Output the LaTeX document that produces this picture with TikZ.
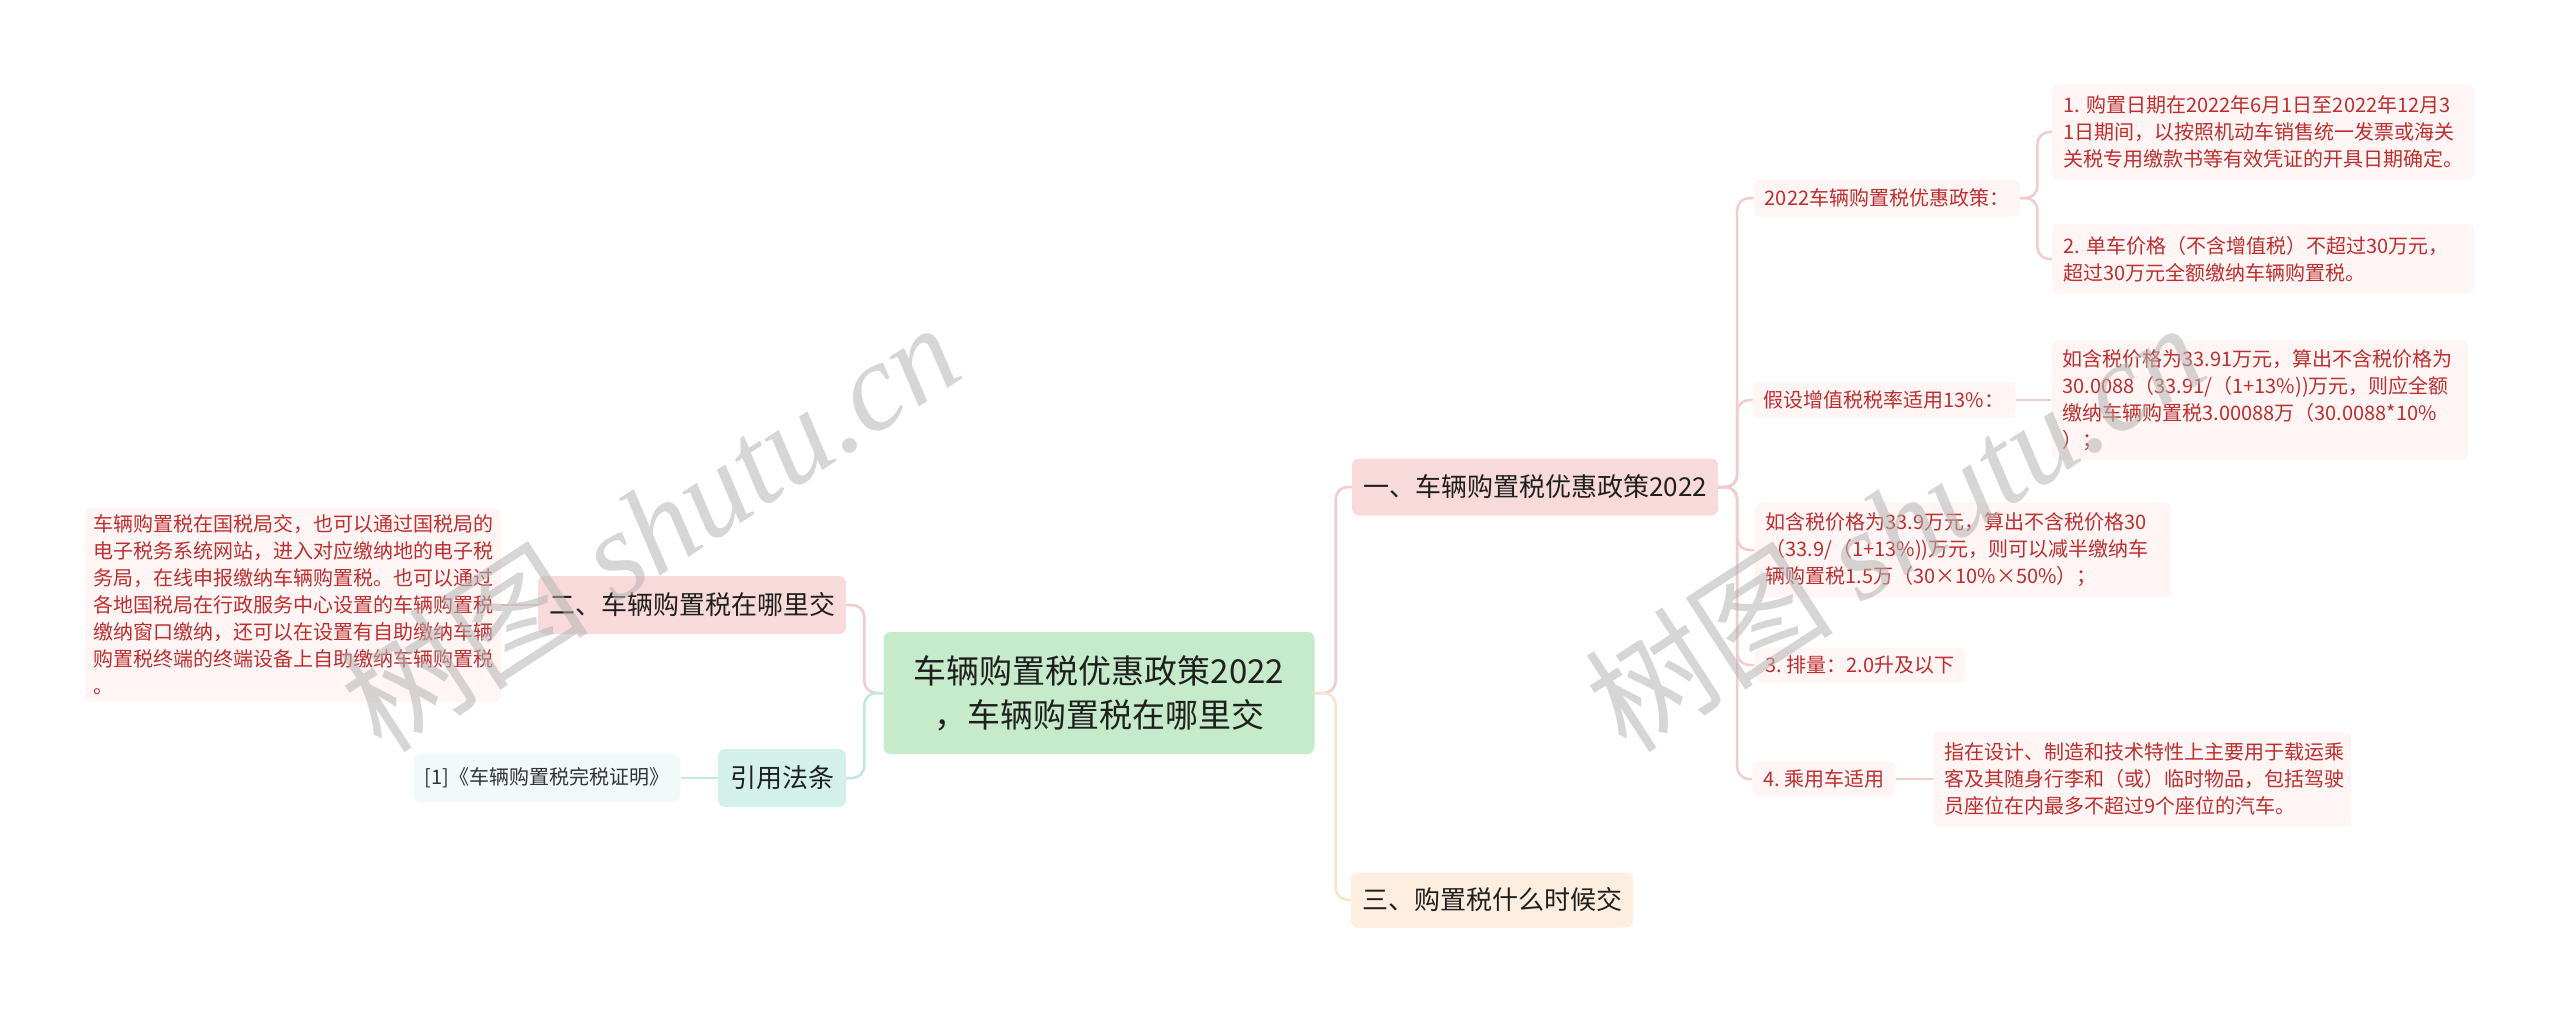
\documentclass[tikz,border=0pt]{standalone}
\usepackage{fontspec}
\setmainfont{Noto Sans CJK SC}
\newfontfamily\wmlatin{Liberation Serif}

\definecolor{rootgreen}{HTML}{C6EBCB}
\definecolor{mainpink}{HTML}{F9DADA}
\definecolor{mainorange}{HTML}{FDEEDF}
\definecolor{mainteal}{HTML}{D3F1EA}
\definecolor{leafbg}{HTML}{FFF5F5}
\definecolor{refbg}{HTML}{F2FAF9}
\definecolor{leafred}{HTML}{BE2E2E}
\definecolor{linepink}{HTML}{F3CBCB}
\definecolor{lineorange}{HTML}{FBE2CC}
\definecolor{lineteal}{HTML}{BFE8E0}
\definecolor{wmgray}{HTML}{B4B4B4}

\begin{document}
\begin{tikzpicture}[x=1pt,y=-1pt,
  box/.style={rounded corners=7pt, inner ysep=0pt, inner xsep=11pt, align=center},
  topic/.style={box, text=black!88, font=\fontsize{26}{34}\selectfont},
  leaf/.style={box, fill=leafbg, text=leafred, align=left, font=\fontsize{20}{27}\selectfont},
  link/.style={line width=2.5pt, rounded corners=12pt}]
\useasboundingbox (0,0) rectangle (2560,1014);
%\fill [white] (0,0) rectangle (2560,1014);
\node[topic, fill=rootgreen, minimum width=431, minimum height=122, font=\fontsize{33}{44}\selectfont] (root) at (1099,693) {车辆购置税优惠政策2022\\，车辆购置税在哪里交};
\node[topic, fill=mainpink, minimum width=366, minimum height=57] (yi) at (1535,487) {一、车辆购置税优惠政策2022};
\node[topic, fill=mainorange, minimum width=281, minimum height=55] (san) at (1492,900) {三、购置税什么时候交};
\node[topic, fill=mainpink, minimum width=307, minimum height=58] (er) at (692,605) {二、车辆购置税在哪里交};
\node[topic, fill=mainteal, minimum width=128, minimum height=58] (yinyong) at (782,778) {引用法条};
\node[box, fill=refbg, text=black!80, minimum width=264, minimum height=48, font=\fontsize{20}{27}\selectfont] (fatiao) at (547,778) {[1]《车辆购置税完税证明》};
\node[leaf, text width=400, inner xsep=8pt, minimum height=194] (erleaf) at (293,605) {车辆购置税在国税局交，也可以通过国税局的\\电子税务系统网站，进入对应缴纳地的电子税\\务局，在线申报缴纳车辆购置税。也可以通过\\各地国税局在行政服务中心设置的车辆购置税\\缴纳窗口缴纳，还可以在设置有自助缴纳车辆\\购置税终端的终端设备上自助缴纳车辆购置税\\。};
% level 2
\node[leaf, minimum width=265, minimum height=37] (zhengce) at (1887,198) {2022车辆购置税优惠政策：};
\node[leaf, minimum width=258, minimum height=36] (jiashe) at (1884,400) {假设增值税税率适用13\%：};
\node[leaf, text width=395, minimum height=95] (hanshui) at (1963,550) {如含税价格为33.9万元，算出不含税价格30\\（33.9/（1+13\%))万元，则可以减半缴纳车\\辆购置税1.5万（30×10\%×50\%）；};
\node[leaf, minimum width=209, minimum height=35] (pailiang) at (1860,665) {3.~排量：2.0升及以下};
\node[leaf, minimum width=139, minimum height=36] (chengyong) at (1824,779) {4.~乘用车适用};
% level 3
\node[leaf, text width=400, minimum height=95] (riqi) at (2263,132) {1.~购置日期在2022年6月1日至2022年12月3\\1日期间，以按照机动车销售统一发票或海关\\关税专用缴款书等有效凭证的开具日期确定。};
\node[leaf, text width=400, minimum height=70] (jiage) at (2263,259) {2.~单车价格（不含增值税）不超过30万元，\\超过30万元全额缴纳车辆购置税。};
\node[leaf, text width=395, minimum height=119] (quane) at (2260,400) {如含税价格为33.91万元，算出不含税价格为\\30.0088（33.91/（1+13\%))万元，则应全额\\缴纳车辆购置税3.00088万（30.0088*10\%\\）；};
\node[leaf, text width=396, minimum height=95] (dingyi) at (2142,779) {指在设计、制造和技术特性上主要用于载运乘\\客及其随身行李和（或）临时物品，包括驾驶\\员座位在内最多不超过9个座位的汽车。};
% connectors
\draw[link, linepink] (root.east) -- ++(21,0) |- (yi.west);
\draw[link, lineorange] (root.east) -- ++(21,0) |- (san.west);
\draw[link, linepink] (root.west) -- ++(-19,0) |- (er.east);
\draw[link, lineteal] (root.west) -- ++(-19,0) |- (yinyong.east);
\draw[link, linepink] (er.west) -- (erleaf.east);
\draw[link, lineteal] (yinyong.west) -- (fatiao.east);
\foreach \k in {zhengce, jiashe, hanshui, pailiang, chengyong}
  \draw[link, linepink] (yi.east) -- ++(19,0) |- (\k.west);
\foreach \k in {riqi, jiage}
  \draw[link, linepink] (zhengce.east) -- ++(17,0) |- (\k.west);
\draw[link, linepink] (jiashe.east) -- (quane.west);
\draw[link, linepink] (chengyong.east) -- (dingyi.west);
% watermark
\foreach \w/\wx in {wmA/649, wmB/1894}
  \node[rotate=33, text=wmgray, opacity=0.55, font=\fontsize{125}{125}\selectfont] (\w) at (\wx,526) {树图 {\wmlatin\itshape shutu.cn}};
\end{tikzpicture}
\end{document}
